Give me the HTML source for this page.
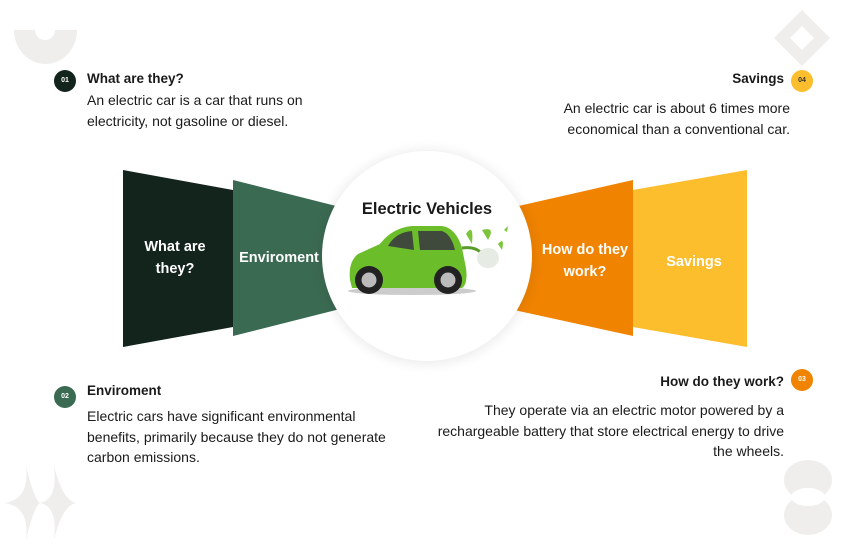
<!DOCTYPE html>
<html><head><meta charset="utf-8"><style>
html,body{margin:0;padding:0;background:#fff;}
body{width:846px;height:547px;position:relative;overflow:hidden;font-family:"Liberation Sans",sans-serif;color:#1a1a1a;}
.t{position:absolute;font-size:14px;line-height:20.5px;}
.h{position:absolute;font-size:13.5px;font-weight:bold;}
.b{position:absolute;width:22px;height:22px;border-radius:50%;font-size:7px;font-weight:bold;color:#fff;text-align:center;line-height:22px;}
.l{position:absolute;color:#fff;font-weight:bold;font-size:14.5px;text-align:center;line-height:22px;}
</style></head><body>
<svg width="846" height="547" style="position:absolute;left:0;top:0">
  <path d="M14 30 H77 A31.5 34 0 0 1 14 30 Z" fill="#efeeec"/>
  <path d="M35 30 A10 10 0 0 0 55 30 Z" fill="#fff"/>
  <path d="M802 10 L830 38 L802 66 L774 38 Z M802 26 L790 38 L802 50 L814 38 Z" fill="#efeeec" fill-rule="evenodd"/>
  <path d="M26 465 Q30 500 4 503 Q30 506 26 540 Q34 506 40 503 Q34 500 26 465 Z" fill="#efeeec"/>
  <path d="M54 465 Q58 500 40 503 Q58 506 54 540 Q62 506 76 503 Q62 500 54 465 Z" fill="#efeeec"/>
  <ellipse cx="808" cy="480" rx="24" ry="20" fill="#efeeec"/>
  <ellipse cx="808" cy="515" rx="24" ry="20" fill="#efeeec"/>
  <ellipse cx="808" cy="497" rx="17" ry="9" fill="#fff"/>
  <polygon points="123,170 233,190 233,327 123,347" fill="#13241d"/>
  <polygon points="233,180 340,207 340,309 233,336" fill="#3b6a52"/>
  <polygon points="514,207 633,180 633,336 514,310" fill="#f08300"/>
  <polygon points="633,190 747,170 747,347 633,327" fill="#fdbe2e"/>
  <defs><filter id="s" x="-20%" y="-20%" width="140%" height="140%"><feGaussianBlur stdDeviation="6"/></filter></defs>
  <circle cx="427" cy="257" r="107" fill="#000" opacity="0.08" filter="url(#s)"/>
  <circle cx="427" cy="256" r="105" fill="#fff"/>
  <ellipse cx="412" cy="291" rx="64" ry="4" fill="#ccc"/>
  <path d="M350 280 Q348 262 358 254 L380 244 Q392 228 412 226 L442 226 Q456 228 462 248 L466 268 Q468 284 462 288 L352 288 Z" fill="#6cbd2a"/>
  <path d="M388 246 Q396 232 412 231 L414 250 Z" fill="#3f4a3c"/>
  <path d="M418 231 L442 231 Q451 234 455 250 L420 250 Z" fill="#3f4a3c"/>
  <circle cx="369" cy="280" r="14" fill="#222"/><circle cx="369" cy="280" r="7.5" fill="#bbb"/>
  <circle cx="448" cy="280" r="14" fill="#222"/><circle cx="448" cy="280" r="7.5" fill="#bbb"/>
  <path d="M462 248 Q476 246 482 254" stroke="#5a9c2a" stroke-width="3" fill="none"/>
  <ellipse cx="488" cy="258" rx="11" ry="10" fill="#e6ece3"/>
  <path d="M466 234 Q474 222 472 244 Z M482 230 Q496 226 488 240 Z M498 244 Q505 236 502 250 Z M504 230 l4 -4 l-1 6 Z" fill="#7cc43a"/>
</svg>
<div class="l" style="left:123px;top:236px;width:104px;">What are<br>they?</div>
<div class="l" style="left:233px;top:247px;width:92px;">Enviroment</div>
<div class="l" style="left:526px;top:239px;width:118px;">How do they<br>work?</div>
<div class="l" style="left:636px;top:251px;width:116px;">Savings</div>
<div style="position:absolute;left:332px;top:200px;width:190px;text-align:center;font-weight:bold;font-size:16.5px;">Electric Vehicles</div>

<div class="b" style="left:54px;top:70px;background:#13241d;">01</div>
<div class="h" style="left:87px;top:71px;">What are they?</div>
<div class="t" style="left:87px;top:90px;">An electric car is a car that runs on<br>electricity, not gasoline or diesel.</div>

<div class="b" style="left:791px;top:70px;background:#fdbe2e;color:#333">04</div>
<div class="h" style="right:62px;top:71px;">Savings</div>
<div class="t" style="right:56px;top:98px;text-align:right;">An electric car is about 6 times more<br>economical than a conventional car.</div>

<div class="b" style="left:54px;top:386px;background:#3b6a52;">02</div>
<div class="h" style="left:87px;top:383px;">Enviroment</div>
<div class="t" style="left:87px;top:406px;">Electric cars have significant environmental<br>benefits, primarily because they do not generate<br>carbon emissions.</div>

<div class="b" style="left:791px;top:369px;background:#f08300;">03</div>
<div class="h" style="right:62px;top:374px;">How do they work?</div>
<div class="t" style="right:62px;top:400px;text-align:right;">They operate via an electric motor powered by a<br>rechargeable battery that store electrical energy to drive<br>the wheels.</div>
</body></html>
